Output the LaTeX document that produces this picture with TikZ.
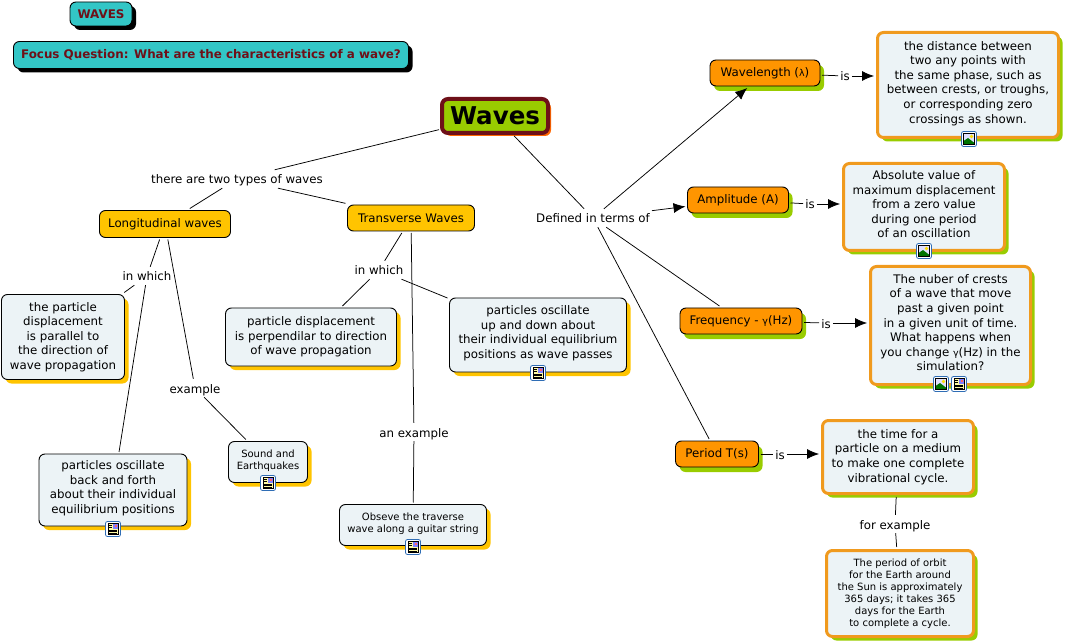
\documentclass[tikz,border=0pt]{standalone}
\usepackage{fontspec}
\setmainfont{DejaVu Sans}
\usetikzlibrary{arrows.meta,shadows}
\definecolor{tealfill}{HTML}{33C6C6}
\definecolor{darkred}{HTML}{6E1018}
\definecolor{leaf}{HTML}{99CC00}
\definecolor{amber}{HTML}{FFC400}
\definecolor{tangerine}{HTML}{FF9500}
\definecolor{pale}{HTML}{ECF3F6}
\definecolor{rim}{HTML}{F09A1E}
\definecolor{iconblue}{HTML}{2F6DB5}
\newcommand{\bigfont}{\fontsize{11.8}{14.6}\selectfont}
\newcommand{\smallfont}{\fontsize{10}{12.1}\selectfont}
\newcommand{\greek}[1]{{\fontsize{9.5}{12}\selectfont #1}}
\newcommand{\iconroom}{\\[-9pt]}
\newcommand{\iconroomsmall}{\\[-7pt]}
\tikzset{
  boxsize/.style 2 args={minimum width=#1pt,minimum height=#2pt},
  conceptbox/.style={draw=black,line width=0.9pt,rounded corners=6pt,outer sep=2pt,inner sep=0pt,align=center,font=\bigfont},
  titlebox/.style={conceptbox,fill=tealfill,text=darkred,font=\fontsize{11.9}{14.6}\selectfont\bfseries,
    drop shadow={shadow xshift=4pt,shadow yshift=-4pt,fill=black,opacity=1}},
  rootbox/.style={conceptbox,fill=leaf,draw=darkred,line width=4pt,outer sep=3pt,font=\fontsize{24.5}{30}\selectfont\bfseries,
    drop shadow={shadow xshift=3pt,shadow yshift=-3pt,fill=orange!80!red,opacity=1}},
  typebox/.style={conceptbox,fill=amber},
  termbox/.style={conceptbox,fill=tangerine,
    drop shadow={shadow xshift=4pt,shadow yshift=-5pt,fill=leaf,opacity=1}},
  notebox/.style={conceptbox,fill=pale,
    drop shadow={shadow xshift=4pt,shadow yshift=-4pt,fill=amber,opacity=1}},
  defbox/.style={conceptbox,fill=pale,draw=rim,line width=3pt,outer sep=3.5pt,
    drop shadow={shadow xshift=4pt,shadow yshift=-4pt,fill=leaf,opacity=1}},
  linker/.style={font=\bigfont,inner xsep=2pt,inner ysep=2pt,text height=12pt,text depth=2pt},
  linkline/.style={draw=black,line width=0.75pt},
  arrowline/.style={linkline,-{Latex[length=12pt,width=10pt]}},
  imgicon/.pic={
    \draw[iconblue,fill=white,line width=0.8pt,rounded corners=2pt] (-7.5,-7.5) rectangle (7.5,7.5);
    \fill[blue!12] (-5.5,-5.5) rectangle (5.5,5.5);
    \fill[green!45!black] (-5.5,5.5) -- (-5.5,2) -- (-1,-1) -- (5.5,4) -- (5.5,5.5) -- cycle;
    \fill[yellow!80!orange] (2.5,-2.5) circle (1.8);
    \draw[black,line width=0.5pt] (-5.5,-5.5) rectangle (5.5,5.5);
  },
  docicon/.pic={
    \draw[iconblue,fill=white,line width=0.8pt,rounded corners=2pt] (-7.5,-7.5) rectangle (7.5,7.5);
    \draw[black,fill=yellow!35,line width=0.5pt] (-5,-5.5) rectangle (5,5.5);
    \fill[blue!50] (-0.5,-5) rectangle (4.5,-0.5);
    \fill[red!60] (2,-4.5) rectangle (4,-2.5);
    \foreach \y in {-3.5,-1.5} \draw[black,line width=0.6pt] (-4,\y) -- (-1.5,\y);
    \foreach \y in {1,2.5,4} \draw[black,line width=0.6pt] (-4,\y) -- (4,\y);
  }
}
\begin{document}
\begin{tikzpicture}[x=1pt,y=-1pt]
\useasboundingbox (0,0) rectangle (1068,644);

\node[titlebox,boxsize={62}{24}] (title) at (101,14) {WAVES};
\node[titlebox,boxsize={395}{27}] (focus) at (211,55) {Focus Question: What are the characteristics of a wave?};

\node[linker] (types) at (237,179) {there are two types of waves};
\node[linker] (defined) at (593,218) {Defined in terms of};
\node[linker] (whichl) at (147,276) {in which};
\node[linker] (whichr) at (379,270) {in which};
\node[linker] (examplel) at (195,388) {example};
\node[linker] (exampler) at (414,432) {an example};
\node[linker] (iswave) at (845,76) {is};
\node[linker] (isamp) at (810,204) {is};
\node[linker] (isfreq) at (826,323) {is};
\node[linker] (isper) at (780,454) {is};
\node[linker] (forex) at (895,524) {for example};

\node[rootbox,boxsize={106}{34}] (waves) at (495,116) {Waves};

\node[typebox,boxsize={131}{27}] (longi) at (165,224) {Longitudinal waves};
\node[typebox,boxsize={127}{26}] (trans) at (411,218) {Transverse Waves};

\node[notebox,boxsize={123}{85}] (parallel) at (63,337) {the particle\\displacement\\is parallel to\\the direction of\\wave propagation};
\node[notebox,boxsize={171}{58}] (perp) at (311,337) {particle displacement\\is perpendilar to direction\\of wave propagation};
\node[notebox,boxsize={177}{74}] (updown) at (538,335) {particles oscillate\\up and down about\\their individual equilibrium\\positions as wave passes\iconroom};
\node[notebox,boxsize={148}{72}] (backforth) at (113,490) {particles oscillate\\back and forth\\about their individual\\equilibrium positions\iconroom};
\node[notebox,boxsize={79}{41},font=\smallfont] (sound) at (268,462) {Sound and\\Earthquakes\iconroomsmall};
\node[notebox,boxsize={147}{41},font=\smallfont] (guitar) at (413,525) {Obseve the traverse\\wave along a guitar string\iconroomsmall};

\node[termbox,boxsize={110}{26}] (wavelen) at (765,73) {Wavelength (\greek{λ})};
\node[termbox,boxsize={101}{26}] (amp) at (738,200) {Amplitude (A)};
\node[termbox,boxsize={122}{26}] (freq) at (741,321) {Frequency - \greek{γ}(Hz)};
\node[termbox,boxsize={83}{26}] (period) at (717,454) {Period T(s)};

\node[defbox,boxsize={181}{105}] (defwave) at (968,85) {the distance between\\two any points with\\the same phase, such as\\between crests, or troughs,\\or corresponding zero\\crossings as shown.\iconroom};
\node[defbox,boxsize={161}{87}] (defamp) at (924,207) {Absolute value of\\maximum displacement\\from a zero value\\during one period\\of an oscillation\iconroom};
\node[defbox,boxsize={160}{118}] (deffreq) at (950.5,325.5) {The nuber of crests\\of a wave that move\\past a given point\\in a given unit of time.\\What happens when\\you change \greek{γ}(Hz) in the\\simulation?\iconroom};
\node[defbox,boxsize={151}{73}] (defper) at (898,457) {the time for a\\particle on a medium\\to make one complete\\vibrational cycle.};
\node[defbox,boxsize={147}{86},font=\smallfont] (deforbit) at (900,593.5) {The period of orbit\\for the Earth around\\the Sun is approximately\\365 days; it takes 365\\days for the Earth\\to complete a cycle.};

\foreach \a/\b in {waves/types,types/longi,types/trans,waves/defined,longi/whichl,longi/examplel,whichl/parallel,whichl/backforth,examplel/sound,trans/whichr,trans/exampler,whichr/perp,whichr/updown,exampler/guitar,defined/freq,defined/period,wavelen/iswave,amp/isamp,freq/isfreq,period/isper,defper/forex,forex/deforbit}
  \draw[linkline] (\a) -- (\b);
\foreach \a/\b in {defined/wavelen,defined/amp}
  \draw[arrowline] (\a) -- (\b);
\foreach \a/\b in {iswave/defwave,isamp/defamp,isfreq/deffreq,isper/defper}
  \draw[arrowline] (\a) -- (\a -| \b.west);

\pic at (969,139) {imgicon};
\pic at (924,251) {imgicon};
\pic at (941,384) {imgicon};
\pic at (959,384) {docicon};
\pic at (538,373) {docicon};
\pic at (113,529) {docicon};
\pic at (268,483) {docicon};
\pic at (413,547) {docicon};
\end{tikzpicture}
\end{document}
